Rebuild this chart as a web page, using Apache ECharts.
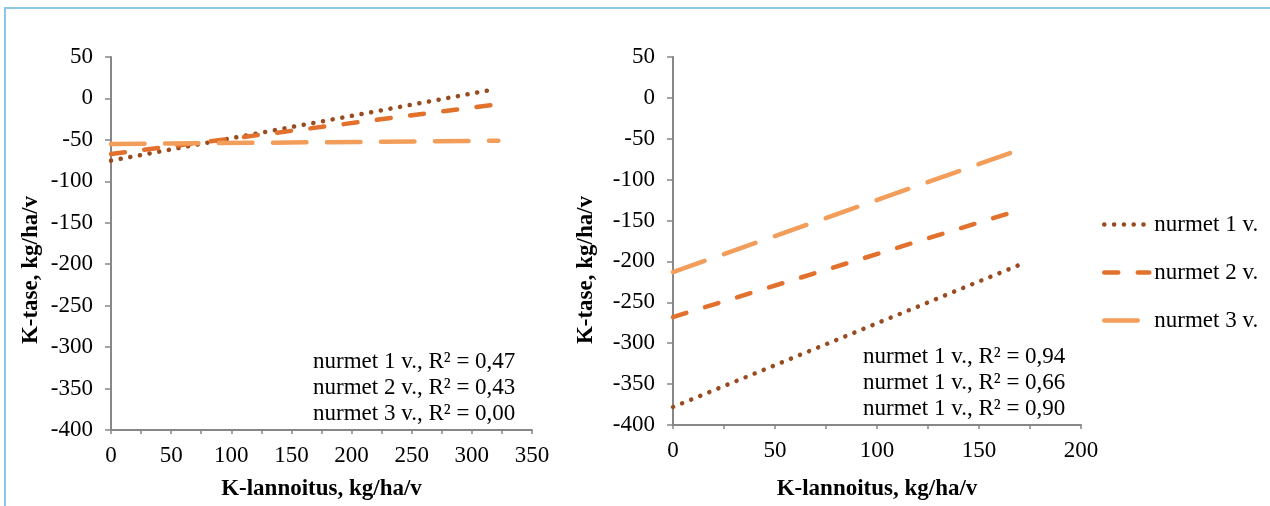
<!DOCTYPE html>
<html>
<head>
<meta charset="utf-8">
<script src="https://cdn.jsdelivr.net/npm/echarts@6/dist/echarts.min.js"></script>
<style>
  html, body { margin: 0; padding: 0; background: #fff; }
  #wrap { position: relative; width: 1270px; height: 506px; }
  #chart { width: 1270px; height: 506px; }
  #frame { position: absolute; left: 4px; top: 7px; right: 0; bottom: 0;
           border-top: 2px solid #8cc6e4; border-left: 2px solid #8cc6e4; pointer-events: none; }
</style>
</head>
<body>
<div id="wrap">
  <div id="chart"></div>
  <div id="frame"></div>
</div>
<script>
// trendlines (start and end of each line)
var seriesNames = ['nurmet 1 v.', 'nurmet 2 v.', 'nurmet 3 v.'];
var leftX = [[0, 315], [0, 322], [0, 322]];
var leftY = [[-75, 10], [-67, -7], [-55, -51]];
var rightX = [[0, 170], [0, 170], [0, 168]];
var rightY = [[-378, -204], [-268, -137], [-213, -65]];
// R2 notes (right panel really says "nurmet 1 v." three times)
var leftNoteNames = ['nurmet 1 v.', 'nurmet 2 v.', 'nurmet 3 v.'];
var leftR2 = ['0,47', '0,43', '0,00'];
var rightNoteNames = ['nurmet 1 v.', 'nurmet 1 v.', 'nurmet 1 v.'];
var rightR2 = ['0,94', '0,66', '0,90'];
var xTitle = 'K-lannoitus, kg/ha/v';
var yTitle = 'K-tase, kg/ha/v';

var font = 'Liberation Serif';
var fs = 23;
var colors = ['#984b1f', '#e2712d', '#f39d5a'];
var styles = [
  { width: 4.5, type: [0.1, 9.7] },
  { width: 4.5, type: [14, 19.5] },
  { width: 4.5, type: [33.5, 20.5] }
];
var axisColor = '#878787';

function pairs(xs, ys) {
  return xs.map(function (x, i) { return [x, ys[i]]; });
}

function xAxisOpt(idx, max, gap) {
  return {
    type: 'value', gridIndex: idx, min: 0, max: max, interval: 50,
    name: xTitle, nameLocation: 'middle', nameGap: gap,
    nameTextStyle: { fontFamily: font, fontSize: fs, fontWeight: 'bold', color: '#000' },
    axisLine: { onZero: false, lineStyle: { color: axisColor, width: 2 } },
    axisTick: { show: true, length: 4, lineStyle: { color: axisColor, width: 1.5 } },
    minorTick: { show: true, splitNumber: 2, length: 4, lineStyle: { color: axisColor, width: 1.5 } },
    splitLine: { show: false },
    axisLabel: { fontFamily: font, fontSize: fs, color: '#000', margin: 14 }
  };
}

function yAxisOpt(idx) {
  return {
    type: 'value', gridIndex: idx, min: -400, max: 50, interval: 50,
    axisLine: { onZero: false, lineStyle: { color: axisColor, width: 2 } },
    axisTick: { show: true, length: 6, lineStyle: { color: axisColor, width: 1.5 } },
    splitLine: { show: false },
    axisLabel: { fontFamily: font, fontSize: fs, color: '#000', margin: 18 }
  };
}

var series = [];
seriesNames.forEach(function (name, i) {
  var ls = { color: colors[i], width: styles[i].width, type: styles[i].type, cap: 'round' };
  series.push({
    name: name, type: 'line', xAxisIndex: 0, yAxisIndex: 0,
    data: pairs(leftX[i], leftY[i]), symbol: 'none', silent: true,
    lineStyle: ls, itemStyle: { color: colors[i] }
  });
  series.push({
    name: name, type: 'line', xAxisIndex: 1, yAxisIndex: 1,
    data: pairs(rightX[i], rightY[i]), symbol: 'none', silent: true,
    lineStyle: ls, itemStyle: { color: colors[i] }
  });
});

var legendData = seriesNames.map(function (name, i) {
  return {
    name: name,
    itemStyle: { opacity: 0 },
    lineStyle: { color: colors[i], width: styles[i].width, type: styles[i].type, cap: 'round' }
  };
});

function noteText(names, r2) {
  return names.map(function (n, i) { return n + ', R\u00b2 = ' + r2[i]; }).join('\n');
}

var chart = echarts.init(document.getElementById('chart'));
chart.setOption({
  animation: false,
  grid: [
    { left: 111, top: 57, width: 421, height: 375 },
    { left: 673, top: 57, width: 408, height: 370 }
  ],
  xAxis: [xAxisOpt(0, 350, 48), xAxisOpt(1, 200, 53)],
  yAxis: [yAxisOpt(0), yAxisOpt(1)],
  legend: {
    orient: 'vertical', left: 1102, top: 213, padding: 0,
    itemWidth: 45, itemHeight: 14, itemGap: 25,
    data: legendData,
    textStyle: { fontFamily: font, fontSize: fs, color: '#000' }
  },
  graphic: [
    { type: 'text', x: 31, y: 270, rotation: Math.PI / 2,
      style: { text: yTitle, font: 'bold ' + fs + 'px ' + font, fill: '#000', align: 'center', verticalAlign: 'middle' } },
    { type: 'text', x: 586, y: 270, rotation: Math.PI / 2,
      style: { text: yTitle, font: 'bold ' + fs + 'px ' + font, fill: '#000', align: 'center', verticalAlign: 'middle' } },
    { type: 'text', x: 313, y: 349,
      style: { text: noteText(leftNoteNames, leftR2), font: fs + 'px ' + font, fill: '#000', lineHeight: 26 } },
    { type: 'text', x: 863, y: 344,
      style: { text: noteText(rightNoteNames, rightR2), font: fs + 'px ' + font, fill: '#000', lineHeight: 26 } }
  ],
  series: series
});
</script>
</body>
</html>
